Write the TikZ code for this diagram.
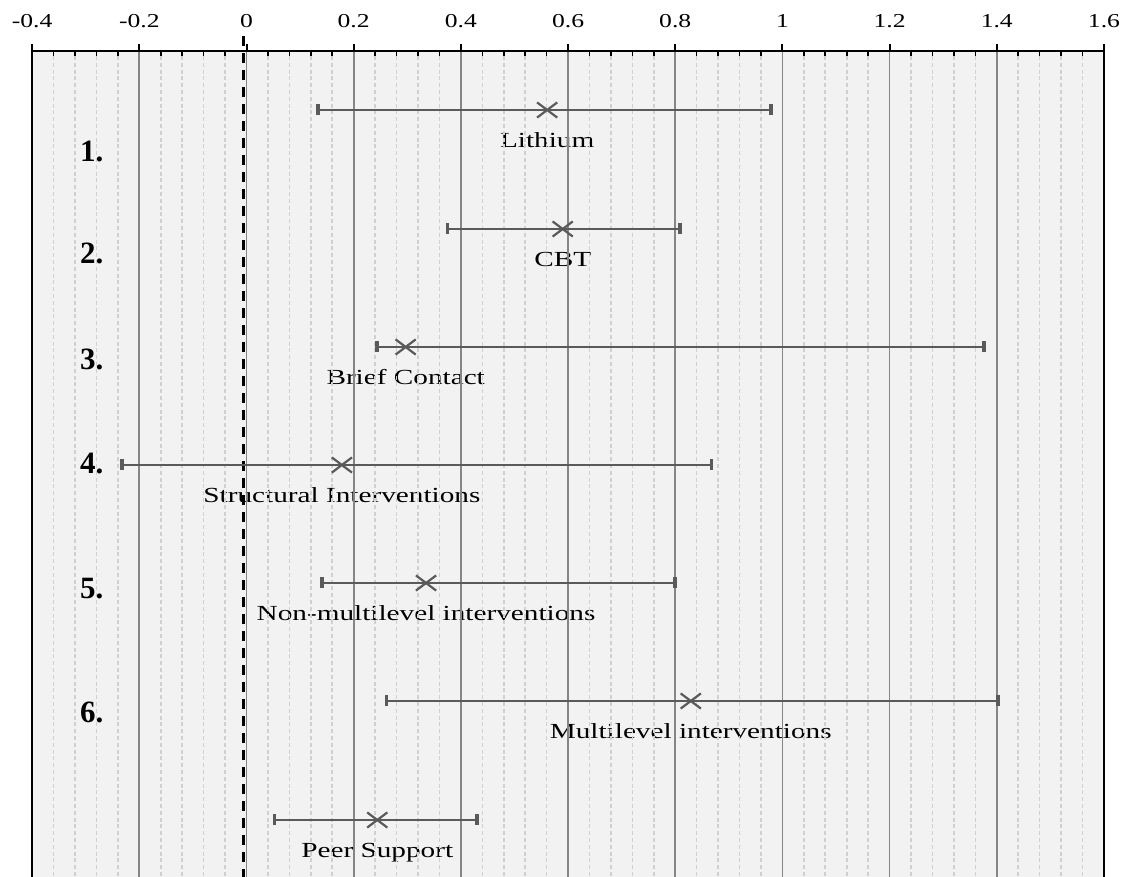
\documentclass[tikz,border=0pt]{standalone}
\usepackage{fontspec}
\setmainfont{Liberation Serif}
\newfontfamily\labfont[FakeStretch=1.36]{Liberation Serif}
\newfontfamily\tickfont[FakeStretch=1.3]{Liberation Serif}
\usetikzlibrary{arrows.meta,shapes.misc}

\definecolor{plotbg}{HTML}{F2F2F2}
\definecolor{majorgrid}{HTML}{858585}
\definecolor{minorgrid}{HTML}{D0D0D0}
\definecolor{barcol}{HTML}{5A5A5A}

\pgfdeclarelayer{back}
\pgfdeclarelayer{text}
\pgfsetlayers{back,text,main}

\begin{document}
\begin{tikzpicture}[x=267.95pt, y=-0.5pt]

        \tikzset{
            ci/.style={draw=barcol, line width=1.4pt,
                {Bar[width=5.5pt,line width=1.8pt]}-{Bar[width=5.5pt,line width=1.8pt]}},
            est/.style={cross out, draw=barcol, line width=1.1pt,
                minimum width=9pt, minimum height=6.5pt, inner sep=0pt},
            lab/.style={font=\labfont\fontsize{10.75pt}{12pt}\selectfont, anchor=base, inner sep=0pt},
            num/.style={font=\bfseries\fontsize{15.5pt}{18pt}\selectfont, anchor=base west, inner sep=0pt},
            ticklab/.style={font=\tickfont\fontsize{9.85pt}{12pt}\selectfont, anchor=base, inner sep=0pt}
        }

        \useasboundingbox (-0.460,0) rectangle (1.643,877);

        % plot area
        \begin{pgfonlayer}{back}
            \fill[plotbg] (-0.4,51) rectangle (1.6,877);
        \end{pgfonlayer}

        % minor grid and minor ticks
        \foreach \a in {-0.4,-0.2,...,1.4}
            \foreach \b in {0.04,0.08,0.12,0.16} {
                \draw[minorgrid, line width=0.8pt, dash pattern=on 2pt off 1.4pt] (\a+\b,56) -- (\a+\b,877);
                \draw[black, line width=0.8pt] (\a+\b,51) -- (\a+\b,56);
            }

        % major grid
        \foreach \x in {-0.2,0,...,1.4}
            \draw[majorgrid, line width=0.9pt] (\x,51) -- (\x,877);

        % axis, major ticks and labels
        \draw[black, line width=1pt] (-0.4,51) -- (1.6,51);
        \foreach \x in {-0.4,-0.2,...,1.6}
            \draw[black, line width=1pt] (\x,44) -- (\x,51);
        \foreach \x/\t [count=\k] in {-0.4/-0.4,-0.2/-0.2,0/0,0.2/0.2,0.4/0.4,0.6/0.6,
                0.8/0.8,1/1,1.2/1.2,1.4/1.4,1.6/1.6}
            \node[ticklab] (tick\k) at (\x,28) {\t};

        % frame
        \draw[black, line width=1.2pt] (-0.4,44) -- (-0.4,877);
        \draw[black, line width=1.2pt] (1.6,44) -- (1.6,877);

        % line of no effect
        \draw[black, line width=1.5pt, dash pattern=on 5pt off 3.5pt] (-0.005,36) -- (-0.005,877);

        % intervals, low and high ends
        \coordinate (lo1) at (0.130,110);
        \coordinate (hi1) at (0.982,110);
        \coordinate (lo2) at (0.372,229);
        \coordinate (hi2) at (0.812,229);
        \coordinate (lo3) at (0.240,347);
        \coordinate (hi3) at (1.380,347);
        \coordinate (lo4) at (-0.236,465);
        \coordinate (hi4) at (0.871,465);
        \coordinate (lo5) at (0.137,583);
        \coordinate (hi5) at (0.803,583);
        \coordinate (lo6) at (0.258,701);
        \coordinate (hi6) at (1.406,701);
        \coordinate (lo7) at (0.049,820);
        \coordinate (hi7) at (0.434,820);

        \draw[ci] (lo1) -- (hi1);
        \draw[ci] (lo2) -- (hi2);
        \draw[ci] (lo3) -- (hi3);
        \draw[ci] (lo4) -- (hi4);
        \draw[ci] (lo5) -- (hi5);
        \draw[ci] (lo6) -- (hi6);
        \draw[ci] (lo7) -- (hi7);

        % point estimates
        \node[est] (est1) at (0.561,110) {};
        \node[est] (est2) at (0.590,229) {};
        \node[est] (est3) at (0.297,347) {};
        \node[est] (est4) at (0.178,465) {};
        \node[est] (est5) at (0.335,583) {};
        \node[est] (est6) at (0.829,701) {};
        \node[est] (est7) at (0.244,820) {};

        % names under the estimates, below the grid
        \begin{pgfonlayer}{text}
            \node[lab] (lab1) at ([yshift=-18.75pt]est1.center) {Lithium};
            \node[lab] (lab2) at ([yshift=-18.75pt]est2.center) {CBT};
            \node[lab] (lab3) at ([yshift=-18.75pt]est3.center) {Brief Contact};
            \node[lab] (lab4) at ([yshift=-18.75pt]est4.center) {Structural Interventions};
            \node[lab] (lab5) at ([yshift=-18.75pt]est5.center) {Non-multilevel interventions};
            \node[lab] (lab6) at ([yshift=-18.75pt]est6.center) {Multilevel interventions};
            \node[lab] (lab7) at ([yshift=-18.75pt]est7.center) {Peer Support};
        \end{pgfonlayer}

        % row numbers
        \node[num] (n1) at (-0.311,162) {1.};
        \node[num] (n2) at (-0.311,264) {2.};
        \node[num] (n3) at (-0.311,370) {3.};
        \node[num] (n4) at (-0.311,474) {4.};
        \node[num] (n5) at (-0.311,599) {5.};
        \node[num] (n6) at (-0.311,723) {6.};

    \end{tikzpicture}
\end{document}
